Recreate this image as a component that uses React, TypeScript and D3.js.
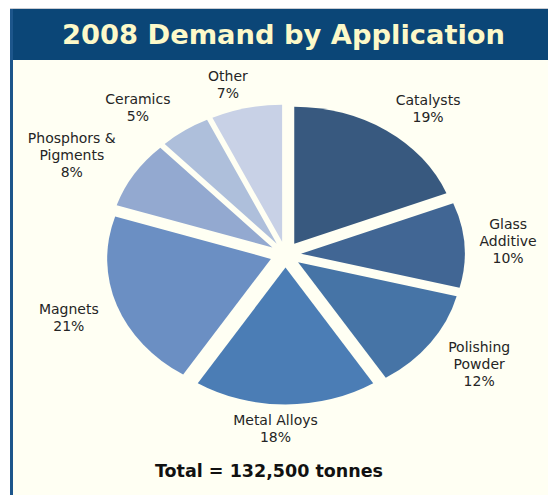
import React from "react";
import * as d3 from "d3";

const categories = [
  "Catalysts",
  "Glass\nAdditive",
  "Polishing\nPowder",
  "Metal Alloys",
  "Magnets",
  "Phosphors &\nPigments",
  "Ceramics",
  "Other",
];
const shares = [19, 10, 12, 18, 21, 8, 5, 7];
const titleText = "2008 Demand by Application";
const totalText = "Total = 132,500 tonnes";

const palette = [
  "#38597f",
  "#416694",
  "#4674a6",
  "#4b7db5",
  "#6b8fc3",
  "#93a9d0",
  "#aebfdb",
  "#c8d1e6",
];
// per-label layout nudges (px)
const labelNudge: [number, number][] = [
  [15, 11],
  [-4, -2],
  [10, -2],
  [-10, -16],
  [-3, -1],
  [-22, 2],
  [-20, 10],
  [-8, 15],
];

const W = 548;
const H = 495;
const cx = 285.5;
const cy = 254.5;
const R = 137;
const explode = 13;
const sx = 1.195;
const labelR = 190;

export default function App() {
  const pie = d3
    .pie<number>()
    .sort(null)
    .value((d) => d)
    .startAngle(0)
    .endAngle(2 * Math.PI);
  const arcs = pie(shares);
  const arc = d3.arc<d3.PieArcDatum<number>>().innerRadius(0).outerRadius(R);
  const font = "'DejaVu Sans', Verdana, sans-serif";
  const lh = 17;

  return (
    <svg
      width={W}
      height={H}
      style={{ position: "absolute", left: 0, top: 0 }}
      xmlns="http://www.w3.org/2000/svg"
    >
      <rect x={0} y={0} width={W} height={H} fill="#ffffff" />
      <rect x={10} y={9} width={W - 10} height={H - 9} fill="#fffff3" />
      <line x1={10} y1={8.5} x2={W} y2={8.5} stroke="#c9ccd2" strokeWidth={1} />
      <rect x={10} y={9} width={W - 10} height={51} fill="#0b4677" />
      <rect x={10} y={9} width={3} height={H - 9} fill="#1d568b" />
      <text
        x={283.5}
        y={44}
        textAnchor="middle"
        fontFamily={font}
        fontWeight="bold"
        fontSize={26}
        fill="#fdf9c9"
        textLength={443}
        lengthAdjust="spacingAndGlyphs"
      >
        {titleText}
      </text>

      <g transform={`translate(${cx},${cy}) scale(${sx},1)`}>
        {arcs.map((a, i) => {
          const mid = (a.startAngle + a.endAngle) / 2;
          const dx = Math.sin(mid) * explode;
          const dy = -Math.cos(mid) * explode;
          return (
            <path
              key={i}
              d={arc(a) || ""}
              transform={`translate(${dx},${dy})`}
              fill={palette[i]}
            />
          );
        })}
      </g>

      {arcs.map((a, i) => {
        const mid = (a.startAngle + a.endAngle) / 2;
        const lx = cx + sx * labelR * Math.sin(mid) + labelNudge[i][0];
        const ly = cy - labelR * Math.cos(mid) + labelNudge[i][1];
        const lines = [...categories[i].split("\n"), `${shares[i]}%`];
        const y0 = ly - ((lines.length - 1) * lh) / 2;
        return (
          <text
            key={i}
            textAnchor="middle"
            fontFamily={font}
            fontSize={14}
            fill="#252525"
          >
            {lines.map((t, j) => (
              <tspan key={j} x={lx} y={y0 + j * lh} dominantBaseline="central">
                {t}
              </tspan>
            ))}
          </text>
        );
      })}

      <text
        x={269}
        y={477}
        textAnchor="middle"
        fontFamily={font}
        fontWeight="bold"
        fontSize={17.5}
        fill="#111"
      >
        {totalText}
      </text>
    </svg>
  );
}
